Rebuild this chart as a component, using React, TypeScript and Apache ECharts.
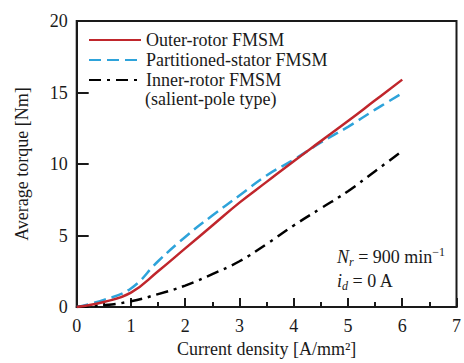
import React, { useEffect, useRef } from "react";
import * as echarts from "echarts";

const currentDensity = [0, 0.5, 1, 1.5, 2, 2.5, 3, 3.5, 4, 4.5, 5, 5.5, 6];
const outerRotor = [0, 0.35, 1.0, 2.5, 4.1, 5.7, 7.3, 8.75, 10.2, 11.6, 13.0, 14.45, 15.9];
const partitionedStator = [0, 0.5, 1.3, 3.2, 4.9, 6.4, 7.8, 9.2, 10.3, 11.5, 12.6, 13.8, 14.95];
const innerRotor = [0, 0.12, 0.4, 0.9, 1.5, 2.3, 3.2, 4.4, 5.7, 6.9, 8.1, 9.5, 10.9];

const seriesNames = ["Outer-rotor FMSM", "Partitioned-stator FMSM", "Inner-rotor FMSM"];
const xTicks = [0, 1, 2, 3, 4, 5, 6, 7];
const yTicks = [0, 5, 10, 15, 20];

const FONT = "Liberation Serif";
const INK = "#1a1a1a";

const pairs = (ys: number[]) => currentDensity.map((x, i) => [x, ys[i]]);

export default function App() {
  const ref = useRef<HTMLDivElement>(null);
  useEffect(() => {
    if (!ref.current) return;
    const chart = echarts.init(ref.current, undefined, { renderer: "svg" });
    chart.setOption({
      animation: false,
      backgroundColor: "#ffffff",
      textStyle: { fontFamily: FONT },
      grid: {
        left: 76.7,
        right: 2,
        top: 21,
        bottom: 52,
        show: true,
        borderColor: INK,
        borderWidth: 2,
      },
      legend: {
        orient: "vertical",
        left: 88,
        top: 30,
        padding: 0,
        itemGap: 0,
        itemWidth: 52,
        itemHeight: 14,
        itemStyle: { opacity: 0 },
        data: seriesNames,
        textStyle: { fontFamily: FONT, fontSize: 18, color: INK, lineHeight: 20 },
      },
      xAxis: {
        type: "value",
        min: xTicks[0],
        max: xTicks[xTicks.length - 1],
        interval: 1,
        name: "Current density [A/mm²]",
        nameLocation: "middle",
        nameGap: 33,
        nameTextStyle: { fontFamily: FONT, fontSize: 18, color: INK },
        axisLine: { lineStyle: { color: INK, width: 2 } },
        axisTick: { inside: true, length: 9, lineStyle: { color: INK, width: 2 } },
        minorTick: { show: true, splitNumber: 2, length: 5, lineStyle: { color: INK, width: 2 } },
        axisLabel: { fontFamily: FONT, fontSize: 18, color: INK, margin: 10 },
        splitLine: { show: false },
      },
      yAxis: {
        type: "value",
        min: yTicks[0],
        max: yTicks[yTicks.length - 1],
        interval: 5,
        name: "Average torque [Nm]",
        nameLocation: "middle",
        nameGap: 46,
        nameTextStyle: { fontFamily: FONT, fontSize: 18, color: INK },
        axisLine: { lineStyle: { color: INK, width: 2 } },
        axisTick: { inside: true, length: 12, lineStyle: { color: INK, width: 2 } },
        axisLabel: { fontFamily: FONT, fontSize: 18, color: INK, margin: 9 },
        splitLine: { show: false },
      },
      series: [
        {
          name: seriesNames[0],
          type: "line",
          data: pairs(outerRotor),
          symbol: "none",
          smooth: 0.45,
          lineStyle: { color: "#c0262c", width: 2.5 },
          itemStyle: { color: "#c0262c" },
          z: 3,
        },
        {
          name: seriesNames[1],
          type: "line",
          data: pairs(partitionedStator),
          symbol: "none",
          smooth: 0.45,
          lineStyle: { color: "#2ea3da", width: 2.5, type: [12, 6] },
          itemStyle: { color: "#2ea3da" },
          z: 2,
        },
        {
          name: seriesNames[2],
          type: "line",
          data: pairs(innerRotor),
          symbol: "none",
          smooth: 0.45,
          lineStyle: { color: "#000000", width: 2.5, type: [12, 6, 3, 6] },
          itemStyle: { color: "#000000" },
          z: 2,
        },
      ],
      graphic: [
        {
          type: "text",
          left: 145,
          top: 90,
          style: { text: "(salient-pole type)", fontFamily: FONT, fontSize: 18, fill: INK },
        },
        {
          type: "text",
          left: 337,
          top: 246,
          style: {
            text: "{it|N}{sub|r} = 900 min{sup|−1}",
            fontFamily: FONT,
            fontSize: 18,
            fill: INK,
            rich: {
              it: { fontFamily: FONT, fontSize: 18, fontStyle: "italic", fill: INK, lineHeight: 22, verticalAlign: "middle" },
              sub: { fontFamily: FONT, fontSize: 12, fontStyle: "italic", fill: INK, lineHeight: 12, verticalAlign: "bottom" },
              sup: { fontFamily: FONT, fontSize: 12, fill: INK, lineHeight: 12, verticalAlign: "top" },
            },
          },
        },
        {
          type: "text",
          left: 337,
          top: 272,
          style: {
            text: "{it|i}{sub|d} = 0 A",
            fontFamily: FONT,
            fontSize: 18,
            fill: INK,
            rich: {
              it: { fontFamily: FONT, fontSize: 18, fontStyle: "italic", fill: INK, lineHeight: 22, verticalAlign: "middle" },
              sub: { fontFamily: FONT, fontSize: 12, fontStyle: "italic", fill: INK, lineHeight: 12, verticalAlign: "bottom" },
            },
          },
        },
      ],
    });
    return () => chart.dispose();
  }, []);
  return <div ref={ref} style={{ width: 464, height: 363, position: "absolute", left: 0, top: 0 }} />;
}
